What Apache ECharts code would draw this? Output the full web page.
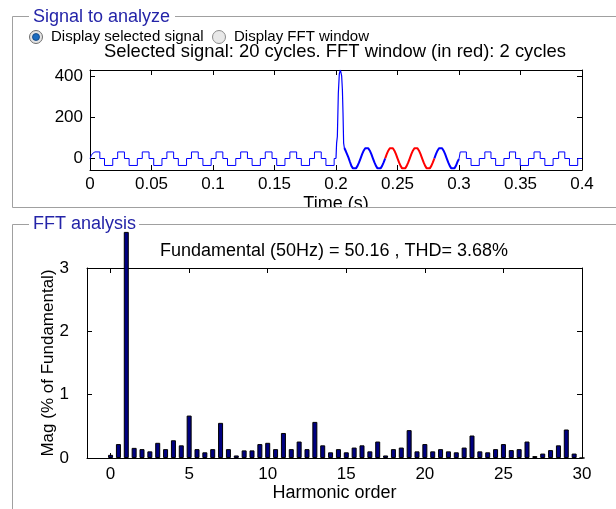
<!DOCTYPE html>
<html><head><meta charset="utf-8">
<script src="https://cdn.jsdelivr.net/npm/echarts@6/dist/echarts.min.js"></script>
<style>html,body{margin:0;padding:0;background:#fff;}#c{width:616px;height:509px;}</style>
</head><body><div id="c"></div>
<script>
// ---------------- data ----------------
const timeTicks = [0, 0.05, 0.1, 0.15, 0.2, 0.25, 0.3, 0.35, 0.4];
const signalTicks = [0, 200, 400];
const harmonicTicks = [0, 5, 10, 15, 20, 25, 30];
const magTicks = [0, 1, 2, 3];

// start of the record (smooth rise)
const startCurveT = [0, 0.001, 0.002, 0.003, 0.004];
const startCurveV = [-2, 12, 22, 28, 30];

// stepped signal before the disturbance (level start times and levels)
const stepsBeforeT = [0.004, 0.008, 0.0118, 0.0185, 0.0225, 0.028, 0.0318, 0.0385, 0.0425, 0.048, 0.0518, 0.0585,
  0.0625, 0.068, 0.0718, 0.0785, 0.0825, 0.088, 0.0918, 0.0985, 0.1025, 0.108, 0.1118, 0.1185,
  0.1225, 0.128, 0.1318, 0.1385, 0.1425, 0.148, 0.1518, 0.1585, 0.1625, 0.168, 0.1718, 0.1785,
  0.1825, 0.188, 0.1918, 0.1985, 0.2];
const stepsBeforeV = [30, -2, -36, -2, 30, -2, -36, -2, 30, -2, -36, -2,
  30, -2, -36, -2, 30, -2, -36, -2, 30, -2, -36, -2,
  30, -2, -36, -2, 30, -2, -36, -2, 30, -2, -36, -2,
  30, -2, -36, -2, -2];

// spike
const spikeT = [0.2, 0.2005, 0.2011, 0.2019, 0.2027, 0.2036, 0.2046, 0.2052, 0.2057, 0.2062, 0.2068];
const spikeV = [-2, 73, 105, 317, 410, 429, 400, 333, 220, 73, 49];

// oscillation before the FFT window (blue)
const oscBeforeT = [0.2068, 0.2081, 0.21, 0.2113, 0.2125, 0.2138, 0.215, 0.21625, 0.2175, 0.21875, 0.22,
  0.22125, 0.2225, 0.22375, 0.225, 0.22625, 0.2275, 0.22875, 0.23, 0.23125, 0.2325, 0.23375, 0.235,
  0.23625, 0.2375, 0.23875, 0.24];
const oscBeforeV = [49, 32, 5, -18, -38, -50, -54, -50, -38, -21, -1,
  19, 36, 48, 52, 48, 36, 19, -1, -21, -38, -50, -54,
  -50, -38, -21, -1];

// FFT window (red)
const windowT = [0.24, 0.24125, 0.2425, 0.24375, 0.245, 0.24625, 0.2475, 0.24875, 0.25, 0.25125, 0.2525,
  0.25375, 0.255, 0.25625, 0.2575, 0.25875, 0.26, 0.26125, 0.2625, 0.26375, 0.265, 0.26625, 0.2675,
  0.26875, 0.27, 0.27125, 0.2725, 0.27375, 0.275, 0.27625, 0.2775, 0.27875, 0.28];
const windowV = [-1, 19, 36, 48, 52, 48, 36, 19, -1, -21, -38,
  -50, -54, -50, -38, -21, -1, 19, 36, 48, 52, 48, 36,
  19, -1, -21, -38, -50, -54, -50, -38, -21, -1];

// oscillation after the FFT window (blue)
const oscAfterT = [0.28, 0.28125, 0.2825, 0.28375, 0.285, 0.28625, 0.2875, 0.28875, 0.29, 0.29125,
  0.2925, 0.29375, 0.295, 0.29625, 0.2975, 0.299, 0.3];
const oscAfterV = [-1, 19, 36, 48, 52, 48, 36, 19, -1, -21, -38, -50, -54, -50, -38, -15, -4];

// stepped signal after the disturbance
const stepsAfterT = [0.3, 0.301, 0.306, 0.3098, 0.3165, 0.321, 0.326, 0.3298, 0.3365, 0.341, 0.346, 0.3498,
  0.3565, 0.361, 0.366, 0.3698, 0.3765, 0.381, 0.386, 0.3898, 0.3965, 0.4];
const stepsAfterV = [-4, 30, -2, -36, -2, 30, -2, -36, -2, 30, -2, -36,
  -2, 30, -2, -36, -2, 30, -2, -36, -2, -2];

// FFT spectrum
const harmonicOrder = [0, 0.5, 1, 1.5, 2, 2.5, 3, 3.5, 4, 4.5, 5, 5.5, 6, 6.5, 7, 7.5, 8, 8.5, 9, 9.5,
  10, 10.5, 11, 11.5, 12, 12.5, 13, 13.5, 14, 14.5, 15, 15.5, 16, 16.5, 17, 17.5, 18, 18.5, 19, 19.5,
  20, 20.5, 21, 21.5, 22, 22.5, 23, 23.5, 24, 24.5, 25, 25.5, 26, 26.5, 27, 27.5, 28, 28.5, 29, 29.5, 30];
const harmonicMag = [0.05, 0.22, 3.57, 0.16, 0.14, 0.105, 0.24, 0.14, 0.28, 0.2, 0.67, 0.14, 0.09, 0.14, 0.555, 0.14, 0.04, 0.12, 0.12, 0.22,
  0.24, 0.14, 0.395, 0.14, 0.26, 0.14, 0.57, 0.2, 0.09, 0.14, 0.09, 0.165, 0.2, 0.105, 0.26, 0.04, 0.14, 0.165, 0.44, 0.105,
  0.22, 0.105, 0.14, 0.105, 0.09, 0.165, 0.355, 0.105, 0.09, 0.14, 0.22, 0.125, 0.14, 0.26, 0.03, 0.07, 0.125, 0.2, 0.45, 0.07, 0];

// ---------------- chart ----------------
const FONT = '"Liberation Sans", Arial, sans-serif';
const pairs = (t, v) => t.map((x, i) => [x, v[i]]);
const chart = echarts.init(document.getElementById('c'), null, {renderer: 'canvas'});

function axis(base, show) {
  return Object.assign({
    type: 'value', splitLine: {show: false},
    axisLine: {show: true, onZero: false, lineStyle: {color: '#000', width: 1}},
    axisTick: {show: true, inside: true, length: 5, lineStyle: {color: '#000'}},
    axisLabel: {show: show, color: '#000', fontSize: 17, fontFamily: FONT}
  }, base);
}

const lineS = (data, color, width, xi, yi) => ({
  type: 'line', data: data, xAxisIndex: xi || 0, yAxisIndex: yi || 0, showSymbol: false, symbol: 'none',
  lineStyle: {color: color, width: width}, itemStyle: {color: color}, animation: false, silent: true
});

const xA0 = axis({gridIndex: 0, min: 0, max: 0.4, position: 'bottom', name: 'Time (s)', nameLocation: 'middle', nameGap: 25,
  nameTextStyle: {fontSize: 18, fontFamily: FONT, color: '#000'}}, true);
xA0.axisTick.customValues = timeTicks; xA0.axisLabel.customValues = timeTicks; xA0.axisLabel.margin = 6;
const xA1 = axis({gridIndex: 0, min: 0, max: 0.4, position: 'top'}, false);
xA1.axisTick.customValues = timeTicks;
const yA0 = axis({gridIndex: 0, min: -58, max: 429, position: 'left'}, true);
yA0.axisTick.customValues = signalTicks; yA0.axisLabel.customValues = signalTicks; yA0.axisLabel.margin = 7;
const yA1 = axis({gridIndex: 0, min: -58, max: 429, position: 'right'}, false);
yA1.axisTick.customValues = signalTicks;

const xA2 = axis({gridIndex: 1, min: -1.5, max: 30, position: 'bottom', name: 'Harmonic order', nameLocation: 'middle', nameGap: 24,
  nameTextStyle: {fontSize: 18, fontFamily: FONT, color: '#000'}}, true);
xA2.axisTick.customValues = harmonicTicks; xA2.axisLabel.customValues = harmonicTicks; xA2.axisLabel.margin = 8;
const xA3 = axis({gridIndex: 1, min: -1.5, max: 30, position: 'top'}, false);
xA3.axisTick.customValues = harmonicTicks;
const yA2 = axis({gridIndex: 1, min: 0, max: 3, position: 'left', name: 'Mag (% of Fundamental)', nameLocation: 'middle', nameGap: 30,
  nameMoveOverlap: false,
  nameTextStyle: {fontSize: 17, fontFamily: FONT, color: '#000'}}, true);
yA2.axisTick.customValues = magTicks; yA2.axisLabel.customValues = magTicks; yA2.axisLabel.margin = 18;
const yA3 = axis({gridIndex: 1, min: 0, max: 3, position: 'right'}, false);
yA3.axisTick.customValues = magTicks;

const GRAY = '#a0a0a0', BLUE_T = '#2424a8';
const gl = (x1, y1, x2, y2) => ({type: 'line', z: 101, shape: {x1, y1, x2, y2}, style: {stroke: GRAY, lineWidth: 1}, silent: true});
const gt = (x, y, text, size, color, align) => ({type: 'text', z: 102, x: x, y: y, silent: true,
  style: {text: text, fontSize: size, fontFamily: FONT, fill: color, textAlign: align || 'left', align: align || 'left',
    textVerticalAlign: 'middle', verticalAlign: 'middle'}});

const option = {
  animation: false,
  backgroundColor: '#ffffff',
  grid: [
    {left: 90, top: 70, width: 492, height: 100, containLabel: false},
    {left: 87, top: 268, width: 495, height: 190, containLabel: false}
  ],
  xAxis: [xA0, xA1, xA2, xA3],
  yAxis: [yA0, yA1, yA2, yA3],
  series: [
    lineS(pairs(startCurveT, startCurveV), '#0000ff', 1),
    Object.assign(lineS(pairs(stepsBeforeT, stepsBeforeV), '#0000ff', 1), {step: 'end'}),
    lineS(pairs(spikeT, spikeV), '#0000ff', 1.2),
    lineS(pairs(oscBeforeT, oscBeforeV), '#0000ff', 2),
    lineS(pairs(windowT, windowV), '#ff0000', 2),
    lineS(pairs(oscAfterT, oscAfterV), '#0000ff', 2),
    Object.assign(lineS(pairs(stepsAfterT, stepsAfterV), '#0000ff', 1), {step: 'end'}),
    {
      type: 'bar', xAxisIndex: 2, yAxisIndex: 2, clip: false, barWidth: 5, animation: false, silent: true,
      data: pairs(harmonicOrder, harmonicMag),
      itemStyle: {color: '#000080', borderColor: '#000000', borderWidth: 1}
    }
  ],
  graphic: [
    {type: 'rect', z: 100, shape: {x: 0, y: 207.5, width: 616, height: 15}, style: {fill: '#ffffff'}, silent: true},
    // panel 1
    gl(12.5, 16.5, 29, 16.5), gl(175, 16.5, 616, 16.5), gl(12.5, 16.5, 12.5, 207.5), gl(12.5, 207.5, 616, 207.5),
    gt(33, 17, 'Signal to analyze', 18, BLUE_T),
    // panel 2
    gl(12.5, 224.5, 29, 224.5), gl(139, 224.5, 616, 224.5), gl(12.5, 224.5, 12.5, 509),
    gt(33, 224, 'FFT analysis', 18, BLUE_T),
    // radio buttons
    {type: 'circle', z: 102, shape: {cx: 36, cy: 37, r: 6.5}, style: {fill: '#e4e4e4', stroke: '#6e6e6e', lineWidth: 1}, silent: true},
    {type: 'circle', z: 103, shape: {cx: 36, cy: 37, r: 3.5}, style: {fill: '#1b6cc0', stroke: '#0d3e78', lineWidth: 0.8}, silent: true},
    gt(51, 37, 'Display selected signal', 15, '#000'),
    {type: 'circle', z: 102, shape: {cx: 219, cy: 37, r: 6.5}, style: {fill: '#e8e8e8', stroke: '#8c8c8c', lineWidth: 1}, silent: true},
    gt(234, 37, 'Display FFT window', 15, '#000'),
    // plot titles
    gt(335, 52, 'Selected signal: 20 cycles. FFT window (in red): 2 cycles', 18.4, '#000', 'center'),
    gt(334, 251, 'Fundamental (50Hz) = 50.16 , THD= 3.68%', 18, '#000', 'center')
  ]
};
chart.setOption(option);
</script>
</body></html>
